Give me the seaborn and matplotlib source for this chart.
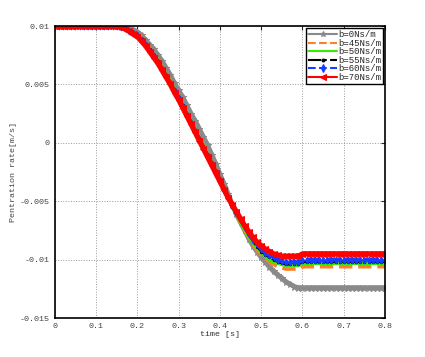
import matplotlib
matplotlib.use("Agg")
import matplotlib.pyplot as plt
import seaborn as sns
import pandas as pd
from matplotlib.ticker import FuncFormatter

# time axis, 0 .. 0.8 s in 0.01 s steps
t = [round(i * 0.01, 2) for i in range(81)]

# penetration rate for each damping value
b0 = [0.01] * 16 + [
    0.00995, 0.0099, 0.0098, 0.0097, 0.0095, 0.0092, 0.0088, 0.0084, 0.0080, 0.0075,
    0.0070, 0.0064, 0.0058, 0.0051, 0.0045, 0.0039, 0.0032, 0.0025, 0.0019, 0.0012,
    0.0005, -0.0002, -0.0010, -0.0018, -0.0027, -0.0035, -0.0044, -0.0053, -0.0061, -0.0068,
    -0.0075, -0.0082, -0.0088, -0.0093, -0.0098, -0.0102, -0.0106, -0.0110, -0.0113, -0.0116,
    -0.0119, -0.0121, -0.0123, -0.0124] + [-0.0124] * 21
b45 = [0.01] * 15 + [
    0.00998, 0.00994, 0.0098, 0.0097, 0.0095, 0.0093, 0.0090, 0.0086, 0.0081, 0.0076,
    0.0071, 0.0065, 0.0059, 0.0053, 0.0046, 0.0040, 0.0033, 0.0026, 0.0019, 0.0012,
    0.0005, -0.0002, -0.0009, -0.0017, -0.0024, -0.0032, -0.0040, -0.0047, -0.0055, -0.0062,
    -0.0069, -0.0075, -0.0081, -0.0087, -0.0092, -0.0096, -0.0099, -0.0102, -0.0104, -0.0106,
    -0.0107, -0.0108, -0.0108, -0.0108, -0.0108] + [-0.0106] * 21
b50 = [0.01] * 15 + [
    0.00998, 0.00993, 0.0098, 0.0096, 0.0094, 0.0092, 0.0089, 0.0085, 0.0080, 0.0075,
    0.0070, 0.0064, 0.0058, 0.0052, 0.0045, 0.0039, 0.0032, 0.0025, 0.0018, 0.0011,
    0.0004, -0.0003, -0.0010, -0.0017, -0.0025, -0.0032, -0.0040, -0.0047, -0.0054, -0.0061,
    -0.0068, -0.0074, -0.0080, -0.0085, -0.0090, -0.0094, -0.0097, -0.0100, -0.0102, -0.0103,
    -0.0104, -0.0105, -0.0105, -0.0105, -0.0105] + [-0.0103] * 21
b55 = [0.01] * 15 + [
    0.00998, 0.00993, 0.0098, 0.0096, 0.0094, 0.0092, 0.0089, 0.0085, 0.0080, 0.0075,
    0.0069, 0.0064, 0.0058, 0.0051, 0.0045, 0.0038, 0.0032, 0.0025, 0.0018, 0.0011,
    0.0004, -0.0003, -0.0010, -0.0018, -0.0025, -0.0032, -0.0040, -0.0047, -0.0054, -0.0061,
    -0.0067, -0.0073, -0.0079, -0.0084, -0.0089, -0.0093, -0.0096, -0.0098, -0.0100, -0.0102,
    -0.0103, -0.0104, -0.0104, -0.0104, -0.0104] + [-0.0102] * 21
b60 = [0.01] * 15 + [
    0.00998, 0.00992, 0.0098, 0.0096, 0.0094, 0.0092, 0.0088, 0.0084, 0.0079, 0.0074,
    0.0069, 0.0063, 0.0057, 0.0051, 0.0044, 0.0038, 0.0031, 0.0024, 0.0017, 0.0010,
    0.0003, -0.0004, -0.0011, -0.0018, -0.0025, -0.0032, -0.0040, -0.0047, -0.0054, -0.0060,
    -0.0066, -0.0072, -0.0078, -0.0083, -0.0087, -0.0091, -0.0094, -0.0096, -0.0098, -0.0100,
    -0.0101, -0.0102, -0.0102, -0.0102, -0.0102] + [-0.0100] * 21
b70 = [0.01] * 15 + [
    0.00998, 0.0099, 0.00975, 0.00955, 0.0093, 0.0091, 0.0087, 0.0083, 0.0078, 0.0073,
    0.0068, 0.0062, 0.0056, 0.0050, 0.0043, 0.0037, 0.0030, 0.0023, 0.0016, 0.0009,
    0.0002, -0.0005, -0.0012, -0.0019, -0.0026, -0.0033, -0.0040, -0.0047, -0.0053, -0.0059,
    -0.0065, -0.0071, -0.0076, -0.0081, -0.0085, -0.0088, -0.0091, -0.0093, -0.0095, -0.0096,
    -0.0097, -0.0097, -0.0097, -0.0097, -0.0097] + [-0.0095] * 21

labels = ["b=0Ns/m", "b=45Ns/m", "b=50Ns/m", "b=55Ns/m", "b=60Ns/m", "b=70Ns/m"]
series = [b0, b45, b50, b55, b60, b70]

styles = [
    dict(color="#8a8a8a", linestyle="-", marker="*", markersize=5, linewidth=3.6),
    dict(color="#ff7f27", linestyle="--", marker=None, linewidth=2.6),
    dict(color="#33ee00", linestyle="-", marker=None, linewidth=2.6),
    dict(color="black", linestyle="-.", marker=".", markersize=3, linewidth=1.6),
    dict(color="#1a3cff", linestyle="--", marker="d", markersize=3.5, linewidth=2.6),
    dict(color="#ff0000", linestyle="-", marker="<", markersize=4.5, linewidth=3.8),
]

sns.set_style("white")
plt.rcParams["font.family"] = ["Liberation Mono", "DejaVu Sans Mono"]

fig = plt.figure(figsize=(4.25, 3.57), dpi=100)
ax = fig.add_axes([0.129, 0.109, 0.777, 0.818])

for vals, lab, st in zip(series, labels, styles):
    df = pd.DataFrame({"t": t, "v": vals})
    sns.lineplot(data=df, x="t", y="v", ax=ax, label=lab, markeredgewidth=0.8,
                 markeredgecolor=st["color"], **st)

ax.set_xlim(0, 0.8)
ax.set_ylim(-0.015, 0.01)
ax.set_xticks([0, 0.1, 0.2, 0.3, 0.4, 0.5, 0.6, 0.7, 0.8])
ax.set_yticks([-0.015, -0.01, -0.005, 0, 0.005, 0.01])
fmt = FuncFormatter(lambda v, p: "%g" % round(v, 4))
ax.xaxis.set_major_formatter(fmt)
ax.yaxis.set_major_formatter(fmt)
ax.tick_params(direction="in", top=True, right=True, length=3, width=0.8,
               labelsize=6, labelcolor="#444444")
ax.grid(True, linestyle=":", color="#999999", linewidth=0.7)
for sp in ax.spines.values():
    sp.set_color("black")
    sp.set_linewidth(1.2)

ax.set_xlabel("time [s]", fontsize=6, color="#333333", labelpad=1)
ax.set_ylabel("Pentration rate[m/s]", fontsize=6, color="#444444", labelpad=2)

leg = ax.legend(loc="upper right", fontsize=6.5, frameon=True, fancybox=False,
                edgecolor="black", handlelength=3.2, handletextpad=0.1,
                borderpad=0.2, labelspacing=-0.05, borderaxespad=0.25,
                framealpha=1)
leg.get_frame().set_linewidth(1.0)
for line in leg.get_lines():
    line.set_linewidth(1.5)
    line.set_markersize(4)

fig.savefig("out.png", dpi=100)
